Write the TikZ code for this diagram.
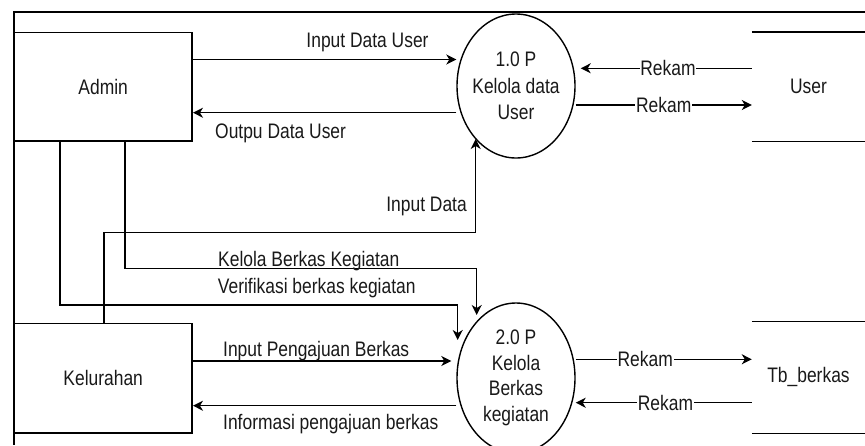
\documentclass[tikz,border=0pt]{standalone}
\usepackage{fontspec}
\setmainfont[FakeStretch=0.83]{Liberation Sans}
\usetikzlibrary{shapes.geometric,arrows.meta}

\begin{document}
\begin{tikzpicture}[x=1pt,y=-1pt,
  every node/.style={font=\fontsize{21}{26}\selectfont, inner sep=0pt, text=black!90},
  line/.style={line width=1.5pt, draw=black},
  arr/.style={line, -{Stealth[length=10pt,width=10pt,inset=3pt]}},
  entity/.style={draw=black, line width=1.5pt, rectangle, minimum width=178pt},
  proc/.style={draw=black, line width=1.4pt, ellipse, minimum width=118pt},
  store/.style={rectangle, minimum width=113pt},
  rekam/.style={fill=white, inner sep=0.8pt}
]
\useasboundingbox (0,0) rectangle (865,445);

% outer frame
\draw[line] (865,12) -- (14,12) -- (14,445);

% external entities
\node[entity, minimum height=108.5pt] (admin) at (103.2,86.5) {Admin};
\node[entity, minimum height=109.5pt] (kel) at (103.2,378) {Kelurahan};

% processes
\node[proc, minimum height=144pt,
  label={[align=center, font=\fontsize{21}{26.5}\selectfont]center:{1.0 P\\Kelola data\\User}}] (p1) at (516,86) {};
\node[proc, minimum height=150pt,
  label={[align=center, font=\fontsize{21}{25.6}\selectfont]center:{2.0 P\\Kelola\\Berkas\\kegiatan}}] (p2) at (516,378) {};

% data stores
\node[store, minimum height=108.7pt] (user) at (808.5,86.7) {User};
\draw[line] (user.north west) -- (user.north east);
\draw[line] (user.south west) -- (user.south east);
\node[store, minimum height=111.3pt] (tb) at (808.5,377.4) {Tb\_berkas};
\draw[line] (tb.north west) -- (tb.north east);
\draw[line] (tb.south west) -- (tb.south east);

% helper points
\coordinate (p1r) at ([xshift=5pt]p1.east);
\coordinate (p2l) at ([xshift=-5pt]p2.west);
\coordinate (tin1) at (475.7,139);
\coordinate (tin2) at (476.7,315);
\coordinate (tin3) at (457.7,340);

% Admin <-> process 1
\draw[arr] (admin.east |- 0,59.5) -- (p1.west |- 0,59.5);
\draw[arr] (p1.west |- 0,112.7) -- (admin.east |- 0,112.7);
\node[anchor=base] (l1) at (367.5,47.5) {Input Data User};
\node[anchor=base west] (l2) at (215,138) {Outpu Data User};

% process 1 <-> User store
\draw[arr] (user.west |- 0,68.3) -- (p1r |- 0,68.3) node[rekam, pos=0.49] (r1) {Rekam};
\draw[arr] (p1.east |- 0,105) -- (user.west |- 0,105) node[rekam, pos=0.5] (r2) {Rekam};

% Kelurahan -> process 1
\draw[arr] (kel.north -| 104,0) |- (tin1 |- 0,232.3) -- (tin1);
\node[anchor=base east] (l3) at (467,211) {Input Data};

% Admin -> process 2
\draw[arr] (admin.south -| 125,0) |- (tin2 |- 0,268.3) -- (tin2);
\draw[arr] (admin.south -| 60,0) |- (tin3 |- 0,305) -- (tin3);
\node[anchor=base west] (l4) at (218,266) {Kelola Berkas Kegiatan};
\node[anchor=base west] (l5) at (217.7,293.3) {Verifikasi berkas kegiatan};

% Kelurahan <-> process 2
\draw[arr] (kel.east |- 0,361) -- (p2l |- 0,361);
\draw[arr] (p2.west |- 0,405.7) -- (kel.east |- 0,405.7);
\node[anchor=base west] (l6) at (223,356.5) {Input Pengajuan Berkas};
\node[anchor=base west] (l7) at (223,429) {Informasi pengajuan berkas};

% process 2 <-> Tb_berkas store
\draw[arr] (p2.east |- 0,359.3) -- (tb.west |- 0,359.3) node[rekam, pos=0.395] (r3) {Rekam};
\draw[arr] (tb.west |- 0,402.7) -- (p2.east |- 0,402.7) node[rekam, pos=0.49] (r4) {Rekam};
\end{tikzpicture}
\end{document}
